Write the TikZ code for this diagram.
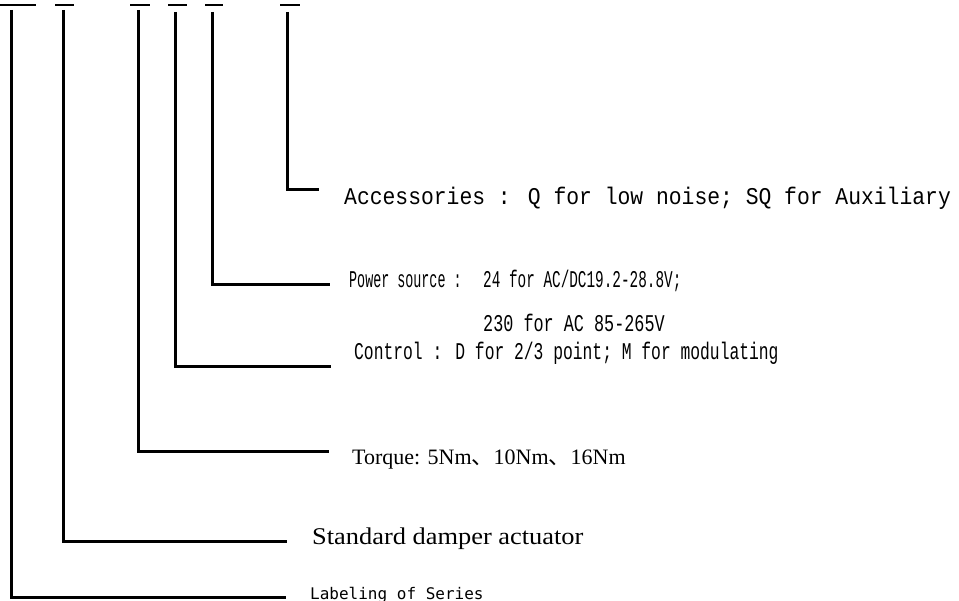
\documentclass[tikz,border=0pt]{standalone}
\usepackage{fontspec}
\setmainfont{Liberation Serif}
\newfontfamily\monoA[FakeStretch=0.89]{Liberation Mono}
\newfontfamily\monoB[FakeStretch=0.68]{Liberation Mono}
\newfontfamily\serifW[FakeStretch=1.1]{Liberation Serif}
\newfontfamily\sansM{DejaVu Sans Mono}
\newfontfamily\cjk{Noto Sans CJK SC}
\begin{document}
\begin{tikzpicture}[x=1pt,y=-1pt,
  lead/.style={line width=3pt},
  bar/.style={line width=2pt},
  lbl/.style={anchor=base west, inner sep=0pt, font=\fontsize{24}{28}\selectfont}]
\useasboundingbox (0,0) rectangle (959,601);
% top bars
\foreach \n/\a/\b in {1/0/36, 2/55/74, 3/130/150, 4/168/187, 5/205/223, 6/280/300}{
  \coordinate (ba\n) at (\a,5);
  \coordinate (bb\n) at (\b,5);
  \draw[bar] (ba\n) -- (bb\n);
}
% leader start points
\coordinate (t1) at (11,10);
\coordinate (t2) at (63,10);
\coordinate (t3) at (138,10);
\coordinate (t4) at (175,12);
\coordinate (t5) at (212,12);
\coordinate (t6) at (287,12);
% leader end points
\coordinate (e1) at (286,597);
\coordinate (e2) at (287,541);
\coordinate (e3) at (329,452);
\coordinate (e4) at (331,367);
\coordinate (e5) at (330,285);
\coordinate (e6) at (319,190);
\draw[lead] (t1) |- (e1);
\draw[lead] (t2) |- (e2);
\draw[lead] (t3) |- (e3);
\draw[lead] (t4) |- (e4);
\draw[lead] (t5) |- (e5);
\draw[lead] (t6) |- (e6);
% labels
\node[lbl] (acc) at (344,205) {\monoA Accessories : Q for low noise; SQ for Auxiliary};
\node[lbl] (pow) at (349,288) {\monoB\scalebox{0.82}[1]{Power source :}};
\node[lbl] (pow1) at (483,288) {\monoB\scalebox{0.88}[1]{24 for AC/DC19.2-28.8V;}};
\node[lbl] (pow2) at (483,332) {\monoB\scalebox{1.03}[1]{230 for AC 85-265V}};
\node[lbl] (ctl) at (354,360) {\monoB Control : D for 2/3 point; M for modulating};
\node[lbl, font=\fontsize{22}{26}\selectfont] (trq) at (352,465) {Torque: 5Nm{\cjk 、}10Nm{\cjk 、}16Nm};
\node[lbl] (std) at (312,544) {\serifW Standard damper actuator};
\node[lbl, font=\fontsize{16}{20}\selectfont] (ser) at (310,599) {\sansM Labeling of Series};
\end{tikzpicture}
\end{document}
